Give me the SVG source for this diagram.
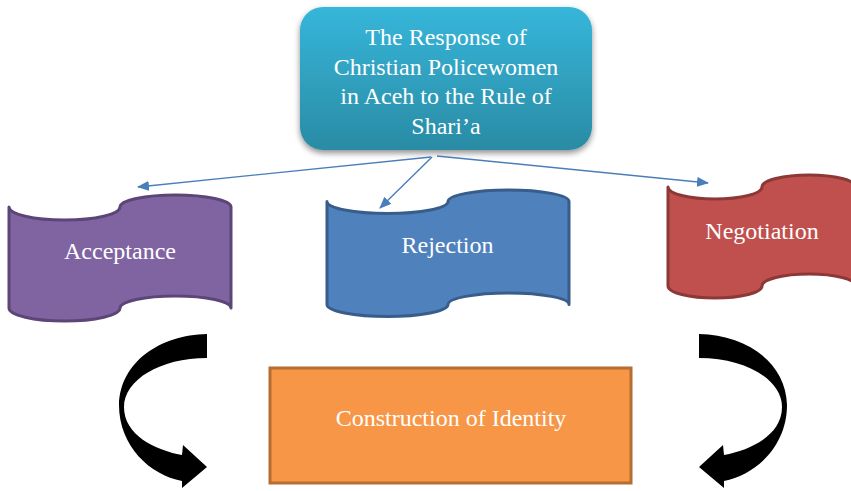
<svg xmlns="http://www.w3.org/2000/svg" width="851" height="491" viewBox="0 0 851 491">
  <style>
    .lbl { font-family: "Liberation Serif", "Times New Roman", serif; font-size: 24px; fill: #ffffff; text-anchor: middle; }
    .conn { stroke: #4a7ebb; stroke-width: 1.4; fill: none; marker-end: url(#head); }
    .tape { stroke-width: 3; stroke-linejoin: round; }
  </style>
  <defs>
    <linearGradient id="topFill" x1="0" y1="0" x2="0" y2="1">
      <stop offset="0" stop-color="#36b6da"/>
      <stop offset="1" stop-color="#2a8ba4"/>
    </linearGradient>
    <filter id="soft" x="-10%" y="-10%" width="120%" height="130%">
      <feGaussianBlur in="SourceAlpha" stdDeviation="3"/>
      <feOffset dx="0" dy="3" result="b"/>
      <feComponentTransfer><feFuncA type="linear" slope="0.45"/></feComponentTransfer>
      <feMerge><feMergeNode/><feMergeNode in="SourceGraphic"/></feMerge>
    </filter>
    <marker id="head" markerWidth="12" markerHeight="10" refX="11" refY="5" orient="auto" markerUnits="userSpaceOnUse">
      <path d="M0,0 L12,5 L0,10 Z" fill="#4a7ebb"/>
    </marker>
    <!-- curved black arrow, bending left and down -->
    <path id="bend" d="M207,334 C160,335 120,362 119,405 C119,446 150,475 182,481 L182,488 L207,467 L183,445 L182,455 C155,450 124,435 124,407 C124,380 160,358 207,358 Z"/>
  </defs>

  <!-- title node -->
  <g id="title">
    <rect x="300" y="7" width="292" height="143" rx="23" ry="23" fill="url(#topFill)" filter="url(#soft)"/>
    <text class="lbl" x="446" y="45">The Response of</text>
    <text class="lbl" x="446" y="75">Christian Policewomen</text>
    <text class="lbl" x="446" y="104">in Aceh to the Rule of</text>
    <text class="lbl" x="446" y="134">Shari’a</text>
  </g>

  <!-- connectors -->
  <g id="connectors">
    <line class="conn" x1="431" y1="157" x2="138" y2="187"/>
    <line class="conn" x1="432" y1="157" x2="380" y2="208"/>
    <line class="conn" x1="437" y1="156" x2="708" y2="183"/>
  </g>

  <!-- response nodes (punched-tape shapes) -->
  <g id="acceptance">
    <path class="tape" fill="#8064a2" stroke="#5c4677"
      d="M9,207 A55.5,13 0 0 0 120,207 A55.5,12 0 0 1 231,207 L231,308 A55.5,12 0 0 0 120,308 A55.5,13 0 0 1 9,308 Z"/>
    <text class="lbl" x="120" y="259">Acceptance</text>
  </g>

  <g id="rejection">
    <path class="tape" fill="#4f81bd" stroke="#385d8a"
      d="M327,201.5 A60.5,12 0 0 0 448,201.5 A60.5,11.5 0 0 1 569,201.5 L569,304.5 A60.5,11.5 0 0 0 448,304.5 A60.5,12 0 0 1 327,304.5 Z"/>
    <text class="lbl" x="447.5" y="253">Rejection</text>
  </g>

  <g id="negotiation">
    <path class="tape" fill="#c0504d" stroke="#8c3836"
      d="M668,187 A47,12 0 0 0 762,187 A47,12 0 0 1 856,187 L856,286 A47,12 0 0 0 762,286 A47,12 0 0 1 668,286 Z"/>
    <text class="lbl" x="762" y="239">Negotiation</text>
  </g>

  <!-- result node -->
  <g id="identity">
    <rect x="270" y="368" width="361" height="115" fill="#f79646" stroke="#b66d31" stroke-width="3"/>
    <text class="lbl" x="451" y="426">Construction of Identity</text>
  </g>

  <!-- curved arrows into the result -->
  <g id="flow-arrows" fill="#000000">
    <use href="#bend"/>
    <use href="#bend" transform="translate(906,0) scale(-1,1)"/>
  </g>
</svg>
